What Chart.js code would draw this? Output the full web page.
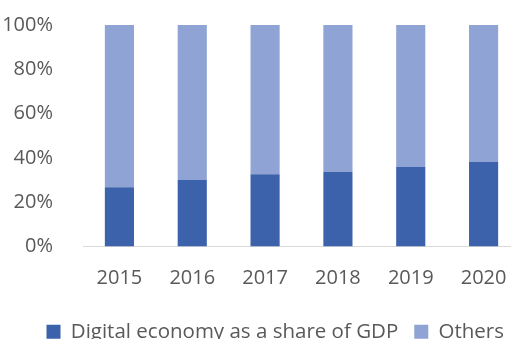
<!DOCTYPE html>
<html>
<head>
<meta charset="utf-8">
<script src="https://cdn.jsdelivr.net/npm/chart.js@4"></script>
<style>
  html, body { margin: 0; padding: 0; background: #fff; overflow: hidden; }
  #wrap { width: 548px; height: 352px; }
</style>
</head>
<body>
<div id="wrap"><canvas id="chart"></canvas></div>
<script>
const years = ['2015', '2016', '2017', '2018', '2019', '2020'];
const digitalShare = [26.8, 30.0, 32.6, 33.7, 35.9, 38.2];
const othersShare = [73.2, 70.0, 67.4, 66.3, 64.1, 61.8];
const yTicks = [0, 20, 40, 60, 80, 100];

Chart.defaults.font.family = "'Open Sans', 'Noto Sans', sans-serif";
Chart.defaults.font.size = 20;
Chart.defaults.color = '#595959';

var ctx = document.getElementById('chart').getContext('2d');
var shareChart = new Chart(ctx, {
    type: 'bar',
    data: {
        labels: years,
        datasets: [
            {
                label: 'Digital economy as a share of GDP',
                data: digitalShare,
                backgroundColor: '#3b62ab',
                categoryPercentage: 1,
                barPercentage: 0.4
            },
            {
                label: 'Others',
                data: othersShare,
                backgroundColor: '#8fa3d4',
                categoryPercentage: 1,
                barPercentage: 0.4
            }
        ]
    },
    options: {
        responsive: true,
        maintainAspectRatio: false,
        animation: false,
        // the plot runs a little past the right edge of the window
        layout: { padding: { top: 25, right: 28, bottom: 0, left: 0 } },
        plugins: {
            tooltip: { enabled: false },
            legend: {
                position: 'bottom',
                align: 'end',
                labels: { boxWidth: 14, boxHeight: 14, padding: 16, font: { size: 20.5 } }
            }
        },
        scales: {
            x: {
                stacked: true,
                grid: { display: false },
                border: { display: true, color: '#d9d9d9', width: 1 },
                ticks: { padding: 12 },
                afterFit: function (scale) { scale.height = 59; }
            },
            y: {
                stacked: true,
                min: 0,
                max: 100,
                grid: { display: false },
                border: { display: false },
                afterBuildTicks: function (scale) {
                    scale.ticks = yTicks.map(v => ({ value: v }));
                },
                ticks: {
                    padding: 22,
                    callback: v => v + '%'
                },
                afterFit: function (scale) {
                    scale.width = 83;
                    scale.paddingTop = 0;
                    scale.paddingBottom = 0;
                }
            }
        }
    }
});
</script>
</body>
</html>
